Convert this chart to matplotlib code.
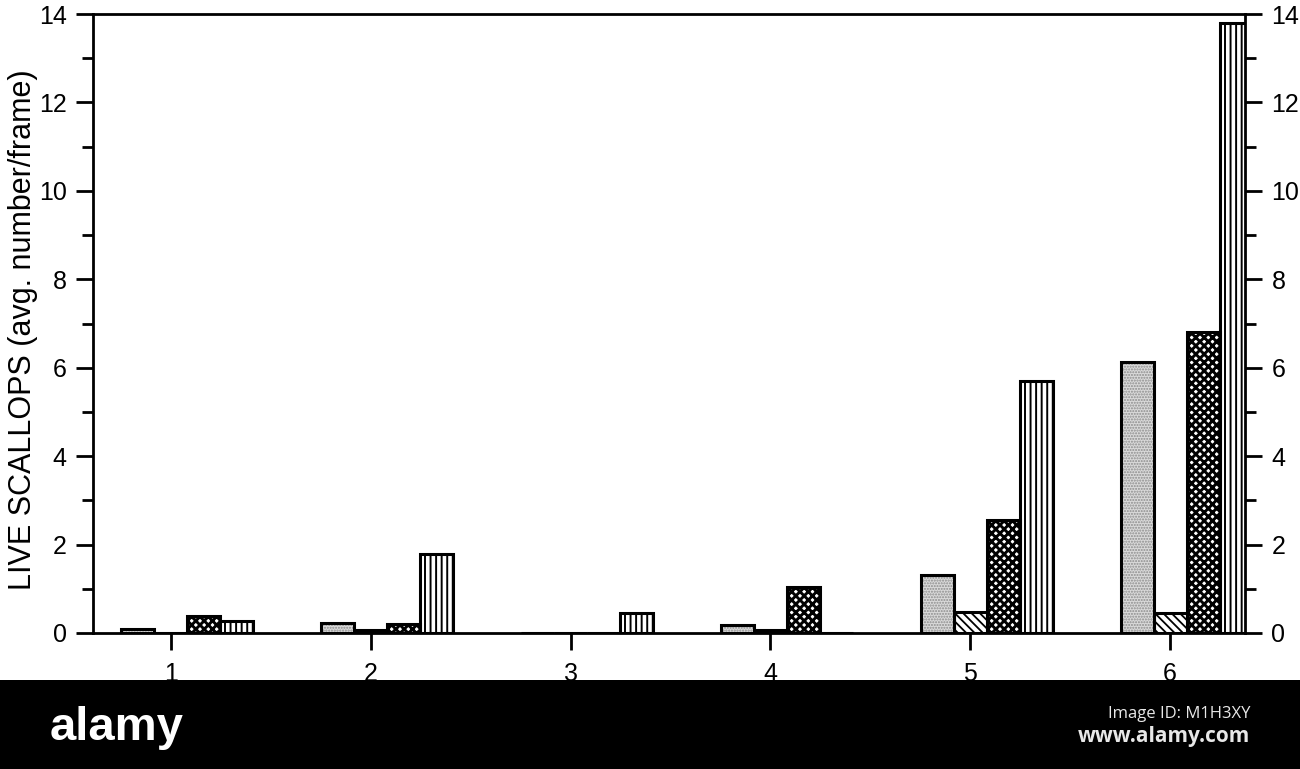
import matplotlib as mpl
import matplotlib.pyplot as plt
from matplotlib.patches import Rectangle
from matplotlib.ticker import MultipleLocator
import numpy as np

# Data (avg. number of live scallops per frame)
sites = [1, 2, 3, 4, 5, 6]
stipple = [0.10, 0.22, 0.0, 0.18, 1.32, 6.13]
diagonal = [0.0, 0.06, 0.0, 0.06, 0.48, 0.45]
dotted = [0.39, 0.20, 0.0, 1.04, 2.56, 6.80]
vertical = [0.27, 1.79, 0.45, 0.0, 5.70, 13.80]

y_ticks = [0, 2, 4, 6, 8, 10, 12, 14]
y_label = 'LIVE SCALLOPS (avg. number/frame)'

plt.rcParams['font.family'] = ['Liberation Sans', 'DejaVu Sans']

W = 1300
H = 769
fig = plt.figure(figsize=(W / 100, H / 100), dpi=100)
fig.patch.set_facecolor('white')
ax = fig.add_axes([93 / W, 1 - 633 / H, (1245 - 93) / W, (633 - 14) / H])

x = np.array(sites, dtype=float)
width = 0.165

# (values, offset, face colour, hatch, hatch colour, hatch line width)
series = [
    (stipple, -1, '#dadada', '......', '#8c8c8c', 1.0),
    (diagonal, 0, 'white', '\\\\\\\\', 'black', 1.3),
    (dotted, 1, 'white', 'xxxx', 'black', 2.1),
    (vertical, 2, 'white', '|||', 'black', 1.4),
]

for vals, off, face, hatch, hcol, hlw in series:
    pos = x + off * width
    # fill with the hatch pattern first, then a clean black outline on top
    with mpl.rc_context({'hatch.linewidth': hlw}):
        ax.bar(pos, vals, width, facecolor=face, edgecolor=hcol, hatch=hatch,
               linewidth=0, zorder=2)
    ax.bar(pos, vals, width, facecolor='none', edgecolor='black',
           linewidth=2.2, zorder=3)

ax.set_xlim(0.61, 6.375)
ax.set_ylim(0, 14)
ax.set_xticks(sites)
ax.set_xticklabels([str(s) for s in sites])
ax.set_yticks(y_ticks)
ax.yaxis.set_minor_locator(MultipleLocator(1))

for sp in ax.spines.values():
    sp.set_linewidth(2)
    sp.set_color('black')

ax.tick_params(axis='y', which='both', left=True, right=True,
               labelleft=True, labelright=True, direction='out',
               width=2, labelsize=18, pad=7)
ax.tick_params(axis='y', which='major', length=12)
ax.tick_params(axis='y', which='minor', length=8)
ax.tick_params(axis='x', which='major', direction='out', length=12,
               width=2, labelsize=18, pad=9, top=False)

ax.set_ylabel(y_label, fontsize=22)
ax.yaxis.set_label_coords(-0.048, 0.49)

# dark watermark strip along the bottom of the image
fig.add_artist(Rectangle((0, 0), 1, 89 / H, transform=fig.transFigure,
                         facecolor='black', edgecolor='none', zorder=10))
fig.text(50 / W, 1 - 740 / H, 'alamy', color='white', fontsize=34,
         fontweight='bold', va='baseline', ha='left', zorder=11,
         family=['Liberation Sans Narrow', 'Liberation Sans'])
fig.text(1250 / W, 1 - 718 / H, 'Image ID: M1H3XY', color='#e8e8e8',
         fontsize=12, va='baseline', ha='right', zorder=11,
         family=['Open Sans', 'DejaVu Sans'])
fig.text(1250 / W, 1 - 742 / H, 'www.alamy.com', color='#e8e8e8',
         fontsize=15, fontweight='bold', va='baseline', ha='right',
         zorder=11, family=['Open Sans', 'DejaVu Sans'])

fig.savefig('out.png', dpi=100, facecolor='white')
